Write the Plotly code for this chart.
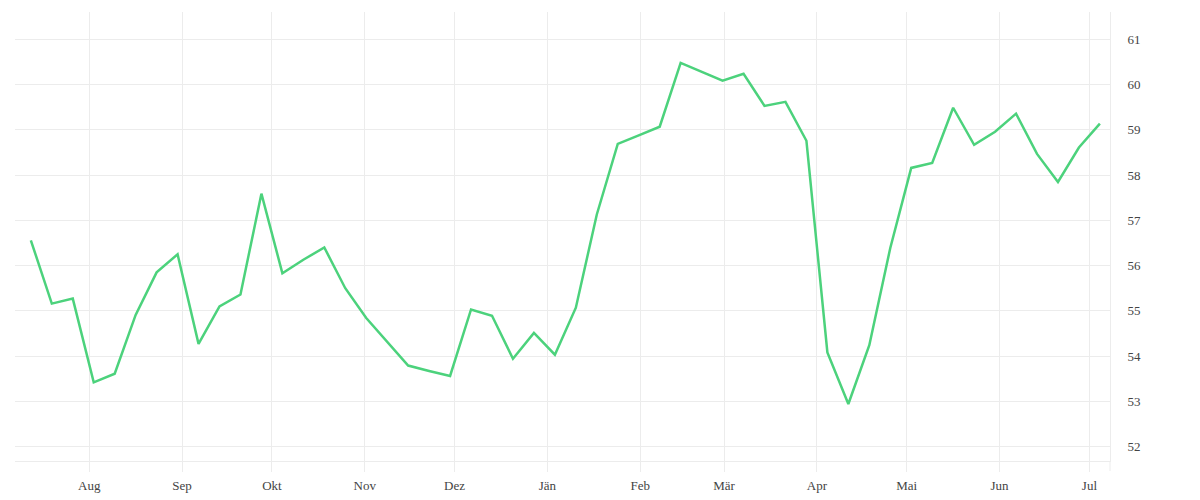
import pandas as pd
import plotly.graph_objects as go

# weekly readings, mid-July to early July of the following year
START = "2022-07-12 12:00"
VALUES = [56.56, 55.16, 55.27, 53.42, 53.61, 54.91, 55.85, 56.25, 54.27, 55.10,
          55.36, 57.59, 55.83, 56.13, 56.40, 55.50, 54.84, 54.31, 53.79, 53.67,
          53.56, 55.03, 54.89, 53.94, 54.51, 54.03, 55.07, 57.13, 58.69, 58.88,
          59.07, 60.48, 60.29, 60.09, 60.24, 59.53, 59.62, 58.76, 54.08, 52.94,
          54.24, 56.39, 58.16, 58.27, 59.49, 58.67, 58.96, 59.36, 58.47, 57.85,
          58.61, 59.14]
DATES = pd.date_range(START, periods=len(VALUES), freq="7D")

MONTH_TICKS = ["2022-08-01", "2022-09-01", "2022-10-01", "2022-11-01", "2022-12-01",
               "2023-01-01", "2023-02-01", "2023-03-01", "2023-04-01", "2023-05-01",
               "2023-06-01", "2023-07-01"]
MONTH_LABELS = ["Aug", "Sep", "Okt", "Nov", "Dez", "Jän", "Feb", "Mär", "Apr", "Mai",
                "Jun", "Jul"]
Y_TICKS = [52, 53, 54, 55, 56, 57, 58, 59, 60, 61]

GRID = "#ececec"
FONT = dict(family="Liberation Serif, serif", size=13, color="#444")

fig = go.Figure()
fig.add_scatter(x=DATES, y=VALUES, mode="lines",
                line=dict(color="#4cd27c", width=2.5), hoverinfo="x+y")

# page body has an 8px margin, so the figure is sized to fit inside it
fig.update_layout(
    width=1184, height=489,
    margin=dict(l=7, r=82, t=4, b=33),
    paper_bgcolor="white", plot_bgcolor="white",
    showlegend=False, font=FONT,
    xaxis=dict(range=["2022-07-07 05:00", "2023-07-07 21:00"],
               tickvals=MONTH_TICKS, ticktext=MONTH_LABELS,
               showgrid=True, gridcolor=GRID, gridwidth=1,
               showline=True, linecolor=GRID, linewidth=1,
               ticks="outside", ticklen=10, tickcolor=GRID, tickwidth=1,
               ticklabelstandoff=2, zeroline=False),
    yaxis=dict(range=[51.68, 61.607], side="right",
               tickvals=Y_TICKS, showgrid=True, gridcolor=GRID, gridwidth=1,
               showline=True, linecolor=GRID, linewidth=1,
               ticks="", ticklabelstandoff=14, zeroline=False),
)
# right frame line runs down past the axis line like the month gridlines
fig.add_shape(type="line", xref="paper", yref="paper", x0=1, x1=1, y0=-0.0224, y1=0,
              line=dict(color=GRID, width=1))

fig.write_html("out.html")
